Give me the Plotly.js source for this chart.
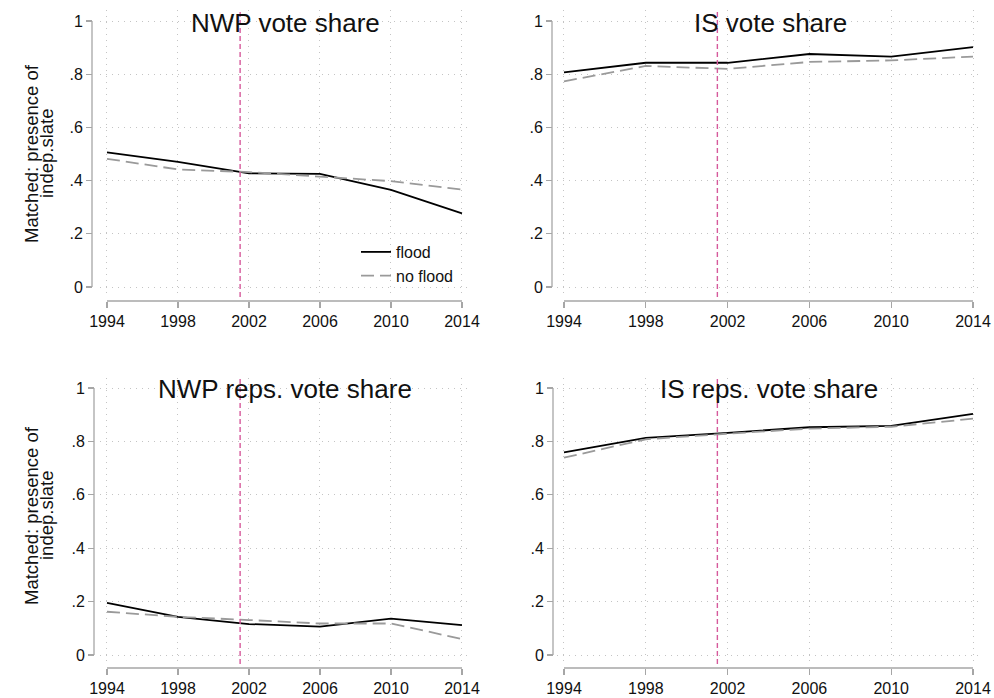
<!DOCTYPE html>
<html>
<head>
<meta charset="utf-8">
<script src="https://cdn.plot.ly/plotly-3.0.1.min.js"></script>
<style>html,body{margin:0;padding:0;background:#fff;}#chart{width:994px;height:698px;}</style>
</head>
<body>
<div id="chart"></div>
<script>
// ---- data ----
const years = [1994, 1998, 2002, 2006, 2010, 2014];
const nwpFlood       = [0.506, 0.470, 0.427, 0.425, 0.365, 0.277];
const nwpNoFlood     = [0.482, 0.442, 0.432, 0.414, 0.398, 0.366];
const isFlood        = [0.807, 0.843, 0.843, 0.876, 0.866, 0.902];
const isNoFlood      = [0.773, 0.831, 0.820, 0.846, 0.852, 0.866];
const nwpRepsFlood   = [0.195, 0.143, 0.116, 0.106, 0.136, 0.112];
const nwpRepsNoFlood = [0.162, 0.143, 0.131, 0.118, 0.118, 0.060];
const isRepsFlood    = [0.759, 0.813, 0.832, 0.853, 0.858, 0.903];
const isRepsNoFlood  = [0.739, 0.808, 0.829, 0.848, 0.855, 0.885];
const panelTitles = ['NWP vote share', 'IS vote share', 'NWP reps. vote share', 'IS reps. vote share'];
const seriesNames = ['flood', 'no flood'];
const xTicks = [1994, 1998, 2002, 2006, 2010, 2014];
const yTicks = [0, 0.2, 0.4, 0.6, 0.8, 1];
const yTickText = ['0', '.2', '.4', '.6', '.8', '1'];
const yTitleLines = ['Matched: presence of', 'indep.slate'];
const treatYear = 2001.5;

// ---- layout geometry (pixels) ----
const W = 994, H = 698;
const panels = [
  {px:[100,470], py:[10,297], xline:301, yline:92, xr:[1993.606,2014.451], yr:[-0.0376,1.0414], fl:nwpFlood, nf:nwpNoFlood, tx:285, ty:23},
  {px:[557,983], py:[10,297], xline:301, yline:552, xr:[1993.658,2014.489], yr:[-0.0376,1.0414], fl:isFlood, nf:isNoFlood, tx:770, ty:23},
  {px:[100,470], py:[378,664], xline:668, yline:94, xr:[1993.606,2014.451], yr:[-0.0337,1.0375], fl:nwpRepsFlood, nf:nwpRepsNoFlood, tx:285, ty:389},
  {px:[557,983], py:[378,664], xline:668, yline:553, xr:[1993.658,2014.489], yr:[-0.0337,1.0375], fl:isRepsFlood, nf:isRepsNoFlood, tx:769, ty:389}
];
const PX = v => v / W, PY = v => 1 - v / H;

const axColor = '#a6a6a6';
const gridColor = '#c4c4c4';
const txtColor = '#111111';
const font = 'Liberation Sans, Arial, Helvetica, sans-serif';
const tickSize = 16;

const traces = [];
const layout = {
  width: W, height: H,
  margin: {l:0, r:0, t:0, b:0},
  paper_bgcolor: '#fff', plot_bgcolor: '#fff',
  font: {family: font, color: txtColor, size: 15},
  showlegend: true,
  legend: {x: PX(356), y: PY(235), xanchor: 'left', yanchor: 'top', bgcolor: 'rgba(0,0,0,0)',
           font: {size: 16, color: txtColor}, itemwidth: 30},
  shapes: [], annotations: []
};

panels.forEach((p, i) => {
  const n = i === 0 ? '' : String(i + 1);
  const xa = 'x' + n, ya = 'y' + n;
  traces.push({x: years, y: p.fl, xaxis: xa, yaxis: ya, type: 'scatter', mode: 'lines', name: seriesNames[0],
               showlegend: i === 0, line: {color: '#000000', width: 1.8}});
  traces.push({x: years, y: p.nf, xaxis: xa, yaxis: ya, type: 'scatter', mode: 'lines', name: seriesNames[1],
               showlegend: i === 0, line: {color: '#9a9a9a', width: 1.8, dash: '13px,6px'}});
  const xDom = [PX(p.px[0]), PX(p.px[1])];
  const yDom = [PY(p.py[1]), PY(p.py[0])];
  layout['xaxis' + n] = {
    domain: xDom, range: p.xr, anchor: 'free', position: PY(p.xline),
    tickmode: 'array', tickvals: xTicks, ticktext: xTicks.map(String),
    ticks: 'outside', ticklen: 6, tickcolor: axColor, tickwidth: 1.2,
    showline: false, zeroline: false,
    showgrid: true, gridcolor: gridColor, gridwidth: 1, griddash: '1px,5px',
    tickfont: {size: tickSize, color: txtColor, family: font}, fixedrange: true
  };
  layout['yaxis' + n] = {
    domain: yDom, range: p.yr, anchor: 'free', position: PX(p.yline),
    tickmode: 'array', tickvals: yTicks, ticktext: yTickText,
    ticks: 'outside', ticklen: 6, tickcolor: axColor, tickwidth: 1.2,
    showline: false, zeroline: false,
    showgrid: true, gridcolor: gridColor, gridwidth: 1, griddash: '1px,5px',
    tickfont: {size: tickSize, color: txtColor, family: font}, fixedrange: true
  };
  // axis lines spanning first..last tick only (Stata style)
  const dx = v => xDom[0] + (v - p.xr[0]) / (p.xr[1] - p.xr[0]) * (xDom[1] - xDom[0]);
  const dy = v => yDom[0] + (v - p.yr[0]) / (p.yr[1] - p.yr[0]) * (yDom[1] - yDom[0]);
  layout.shapes.push({type: 'line', xref: 'paper', yref: 'paper', x0: dx(xTicks[0]), x1: dx(xTicks[xTicks.length - 1]),
    y0: PY(p.xline), y1: PY(p.xline), line: {color: axColor, width: 1.3}});
  layout.shapes.push({type: 'line', xref: 'paper', yref: 'paper', x0: PX(p.yline), x1: PX(p.yline),
    y0: dy(yTicks[0]), y1: dy(yTicks[yTicks.length - 1]), line: {color: axColor, width: 1.3}});
  // treatment line
  layout.shapes.push({type: 'line', xref: xa, yref: ya + ' domain', x0: treatYear, x1: treatYear, y0: 0, y1: 1,
    line: {color: '#d65a9c', width: 1.4, dash: '5px,3px'}});
  // panel title
  layout.annotations.push({text: panelTitles[i], xref: 'paper', yref: 'paper', x: PX(p.tx), y: PY(p.ty),
    xanchor: 'center', yanchor: 'middle', showarrow: false, font: {size: 26, color: txtColor, family: font}});
  // y title for left column
  if (i === 0 || i === 2) {
    const cy = i === 0 ? 154 : 516;
    layout.annotations.push({text: yTitleLines[0], xref: 'paper', yref: 'paper', x: PX(31), y: PY(cy),
      xanchor: 'center', yanchor: 'middle', textangle: -90, showarrow: false, font: {size: 18.5, color: txtColor, family: font}});
    layout.annotations.push({text: yTitleLines[1], xref: 'paper', yref: 'paper', x: PX(46), y: PY(cy),
      xanchor: 'center', yanchor: 'middle', textangle: -90, showarrow: false, font: {size: 18.5, color: txtColor, family: font}});
  }
});

Plotly.newPlot('chart', traces, layout, {displayModeBar: false, staticPlot: true});
</script>
</body>
</html>
